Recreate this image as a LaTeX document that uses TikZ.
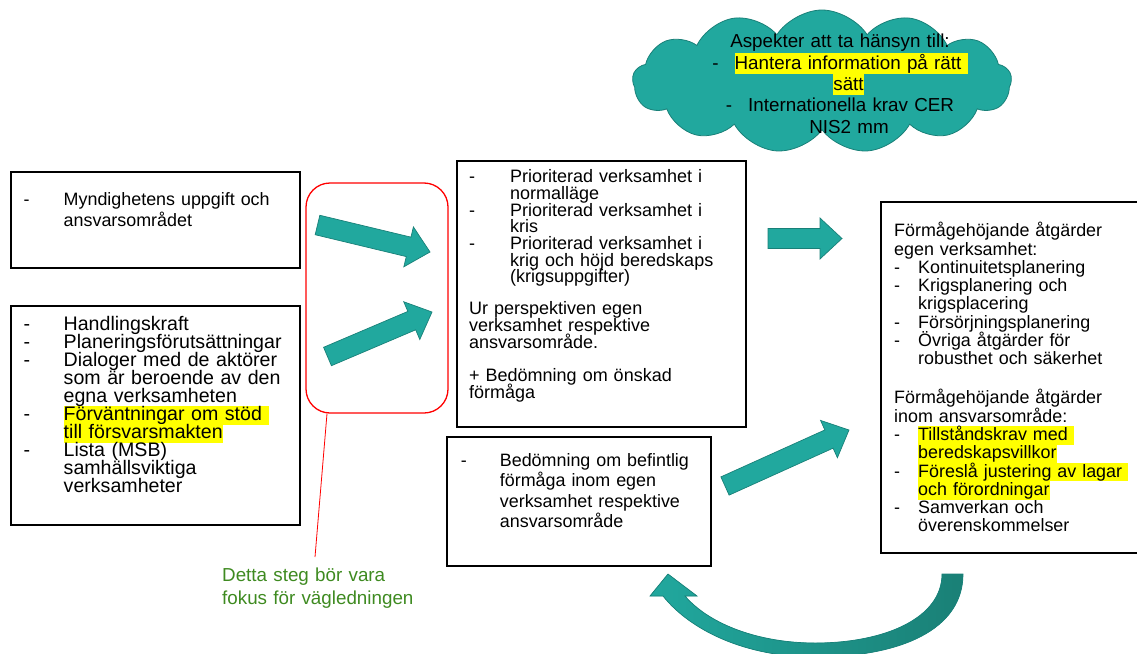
\documentclass[tikz,border=0pt]{standalone}
\usepackage{fontspec}
\setmainfont{Liberation Sans}
\usetikzlibrary{calc,shapes.symbols}

\definecolor{tealfill}{RGB}{33,168,158}
\definecolor{tealedge}{RGB}{25,128,120}
\definecolor{tealdark}{RGB}{26,128,118}
\definecolor{hlyellow}{RGB}{255,255,0}
\definecolor{notegreen}{RGB}{62,138,32}

\newcommand{\fs}[2]{\fontsize{#1}{#2}\selectfont\lineskiplimit=-100pt\relax}
\newcommand{\hili}[1]{{\setlength{\fboxsep}{0pt}\colorbox{hlyellow}{\rule[-0.23\baselineskip]{0pt}{\baselineskip}#1}}}
\newcommand{\itm}[1][40pt]{\makebox[#1][l]{-}}
\newcommand{\nxt}[1][40pt]{\hspace*{#1}}
\newcommand{\blockarrow}[2]{%
  \coordinate (bh) at ($(#2)!22pt!(#1)$);
  \filldraw[tealarrow] ($(#1)!10pt!90:(#2)$) -- ($(bh)!10pt!-90:(#1)$) -- ($(bh)!20.5pt!-90:(#1)$) -- (#2)
    -- ($(bh)!20.5pt!90:(#1)$) -- ($(bh)!10pt!90:(#1)$) -- ($(#1)!10pt!-90:(#2)$) -- cycle;}

\tikzset{
  box/.style={draw, line width=1.4pt, inner sep=0pt},
  fokusbox/.style={draw=red, line width=1.3pt, rounded corners=24pt},
  txt/.style={anchor=base west, inner sep=0pt, align=left, text width=#1},
  tealarrow/.style={fill=tealfill, draw=tealedge, line width=0.7pt},
}

\begin{document}
\begin{tikzpicture}[x=1pt, y=-1pt]
\useasboundingbox (0,0) rectangle (1137,653);

\node[cloud, cloud puffs=13, cloud puff arc=115, cloud ignores aspect, fill=tealfill, draw=tealedge, line width=0.8pt, minimum width=379, minimum height=143, inner sep=0pt] (aspekt) at (822,81.5) {};
\node[txt=300pt, anchor=base, align=center, font=\fs{18.8}{21.4}] (aspekt-t) at (840,47.7) {Aspekter att ta hänsyn till:\\ -\hspace{16pt}\hili{Hantera information på rätt }\\ \hspace*{17pt}\hili{sätt}\\ -\hspace{16pt}Internationella krav CER\\ \hspace*{18pt}NIS2 mm};

\node[box, minimum width=289, minimum height=96] (mynd) at (155.5,220) {};
\node[txt=270pt, font=\fs{17.9}{21}] (mynd-t) at (23.5,205.7) {\itm Myndighetens uppgift och\\ \nxt ansvarsområdet};

\node[box, minimum width=289, minimum height=219] (krav) at (155.5,415.5) {};
\node[txt=280pt, font=\fs{19.6}{18.1}] (krav-t) at (23.5,330) {\itm Handlingskraft\\ \itm Planeringsförutsättningar\\ \itm Dialoger med de aktörer\\ \nxt som är beroende av den\\ \nxt egna verksamheten\\ \itm\hili{Förväntningar om stöd }\\ \nxt\hili{till försvarsmakten}\\ \itm Lista (MSB)\\ \nxt samhällsviktiga\\ \nxt verksamheter};

\node[fokusbox, minimum width=142, minimum height=230] (fokus) at (377,298) {};
\node[txt=200pt, text=notegreen, font=\fs{18.8}{22.6}] (fokus-t) at (222,581.7) {Detta steg bör vara\\ fokus för vägledningen};
\coordinate (fokus-e) at (315,557);
\draw[red, line width=0.8pt] ([xshift=-50pt]fokus.south) -- (fokus-e);

\node[box, minimum width=289, minimum height=266] (prio) at (601.5,294) {};
\node[txt=280pt, font=\fs{18}{16.67}] (prio-t) at (469,182.7) {\itm[41pt]Prioriterad verksamhet i\\ \nxt[41pt]normalläge\\ \itm[41pt]Prioriterad verksamhet i\\ \nxt[41pt]kris\\ \itm[41pt]Prioriterad verksamhet i\\ \nxt[41pt]krig och höjd beredskaps\\ \nxt[41pt](krigsuppgifter)\\[15.6pt] Ur perspektiven egen\\ verksamhet respektive\\ ansvarsområde.\\[16.7pt] + Bedömning om önskad\\ förmåga};

\node[box, minimum width=264, minimum height=129] (befintl) at (579,501.5) {};
\node[txt=250pt, font=\fs{17.9}{20.2}] (befintl-t) at (460.7,466.7) {\itm[39pt]Bedömning om befintlig\\ \nxt[39pt]förmåga inom egen\\ \nxt[39pt]verksamhet respektive\\ \nxt[39pt]ansvarsområde};

\node[box, minimum width=259, minimum height=351] (atgard) at (1010.5,377.5) {};
\node[txt=240pt, font=\fs{17.9}{18.3}] (atgard-t) at (894,236.7) {Förmågehöjande åtgärder\\ egen verksamhet:\\ \itm[24pt]Kontinuitetsplanering\\ \itm[24pt]Krigsplanering och\\ \nxt[24pt]krigsplacering\\ \itm[24pt]Försörjningsplanering\\ \itm[24pt]Övriga åtgärder för\\ \nxt[24pt]robusthet och säkerhet\\[20.7pt] Förmågehöjande åtgärder\\ inom ansvarsområde:\\ \itm[24pt]\hili{Tillståndskrav med }\\ \nxt[24pt]\hili{beredskapsvillkor}\\ \itm[24pt]\hili{Föreslå justering av lagar }\\ \nxt[24pt]\hili{och förordningar}\\ \itm[24pt]Samverkan och\\ \nxt[24pt]överenskommelser};

\coordinate (in1a) at (317.5,225);
\coordinate (in1b) at (430,252);
\coordinate (in2a) at (327.5,356.5);
\coordinate (in2b) at (432,312);
\coordinate (ut1a) at (768,238.5);
\coordinate (ut1b) at (842,238.5);
\coordinate (ut2a) at (725,486);
\coordinate (ut2b) at (849,430);
\blockarrow{in1a}{in1b}
\blockarrow{in2a}{in2b}
\blockarrow{ut1a}{ut1b}
\blockarrow{ut2a}{ut2b}

% tillbaka till bedomningen
\filldraw[tealarrow, left color=tealfill, right color=tealdark] (942,574) -- (963,574)
  .. controls (963,630) and (900,657) .. (815,657) .. controls (745,657) and (690,630) .. (663,596)
  -- (650,596) -- (668,574) -- (697,596) -- (685,596)
  .. controls (710,625) and (760,643) .. (815,643) .. controls (885,643) and (942,618) .. (942,574) -- cycle;

\end{tikzpicture}
\end{document}
